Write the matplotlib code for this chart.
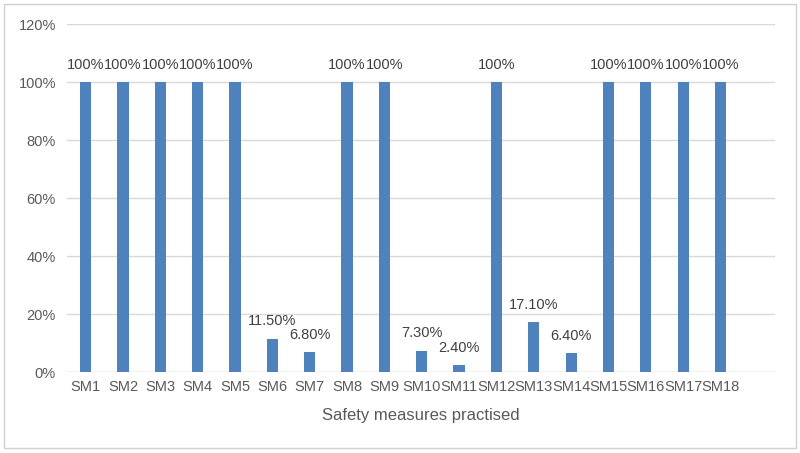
import matplotlib
matplotlib.use("Agg")
import matplotlib.pyplot as plt
from matplotlib.patches import Rectangle

categories = [f"SM{i}" for i in range(1, 19)]
values = [100, 100, 100, 100, 100, 11.5, 6.8, 100, 100, 7.3, 2.4, 100, 17.1, 6.4, 100, 100, 100, 100]
labels = ["100%", "100%", "100%", "100%", "100%", "11.50%", "6.80%", "100%", "100%",
          "7.30%", "2.40%", "100%", "17.10%", "6.40%", "100%", "100%", "100%", "100%"]
yticks = [0, 20, 40, 60, 80, 100, 120]

plt.rcParams['font.family'] = ['Liberation Sans', 'DejaVu Sans']
fig = plt.figure(figsize=(8, 4.53), dpi=100)
ax = fig.add_axes([0.08375, 0.1788, 0.885, 0.7682])

x = list(range(len(categories)))
bars = ax.bar(x, values, width=0.3, color='#4F81BD', zorder=3)
for xi, v, lab in zip(x, values, labels):
    ax.annotate(lab, (xi, v), xytext=(0, 7.5), textcoords='offset points',
                ha='center', va='bottom', fontsize=10.5, color='#404040')

ax.set_xlim(-0.5, 18.46)
ax.set_ylim(0, 120)
ax.set_yticks(yticks)
ax.set_yticklabels([f"{t}%" for t in yticks], fontsize=10.5, color='#595959')
ax.set_xticks(x)
ax.set_xticklabels(categories, fontsize=10.5, color='#595959')
ax.tick_params(axis='x', length=0, pad=6)
ax.tick_params(axis='y', length=0, pad=8)
ax.yaxis.grid(True, color='#D9D9D9', linewidth=1, zorder=0)
for s in ax.spines.values():
    s.set_visible(False)
ax.axhline(0, color='#D9D9D9', linewidth=1, zorder=2)
ax.set_xlabel("Safety measures practised", fontsize=12, color='#595959', labelpad=10)

fig.patches.append(Rectangle((0.005, 0.012), 0.99, 0.98, transform=fig.transFigure,
                             fill=False, edgecolor='#D0D0D0', linewidth=1))
fig.savefig("out.png", dpi=100)
